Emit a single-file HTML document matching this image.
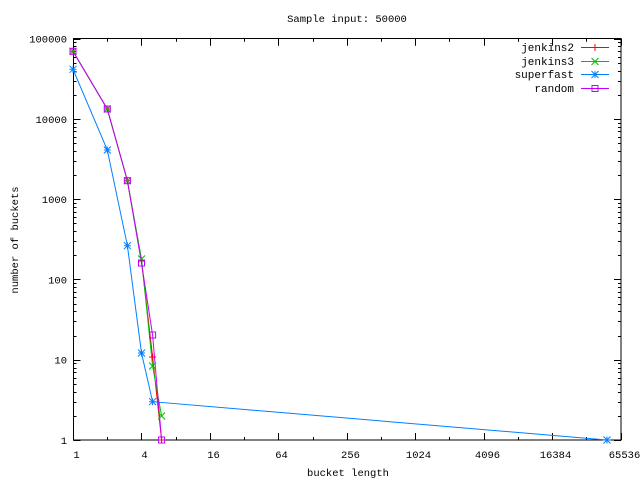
<!DOCTYPE html>
<html><head><meta charset="utf-8"><style>
html,body{margin:0;padding:0;background:#fff;}
svg{display:block;font-family:"Liberation Mono",monospace;font-size:10.5px;}
</style></head><body>
<svg id="s" width="640" height="480" xmlns="http://www.w3.org/2000/svg">
<rect width="640" height="480" fill="#fff"/>
<g id="ticks" stroke="#000" stroke-width="1"></g>
<rect x="73.5" y="38.5" width="547.5" height="401.5" fill="none" stroke="#000"/>
<g id="labels" fill="#000"></g>
<text x="347" y="22" text-anchor="middle">Sample input: 50000</text>
<text x="348" y="476" text-anchor="middle">bucket length</text>
<text transform="translate(18,240) rotate(-90)" text-anchor="middle">number of buckets</text>
<g fill="none" stroke-width="1">
<polyline stroke="#ff0000" points="73,51.3 107.3,109 127.4,180.7 141.5,261 152.6,357 161.6,440"/>
<polyline stroke="#00c000" points="73,51.3 107.3,109 127.4,180.7 141.5,259 152.6,366 161.6,416"/>
<polyline stroke="#0080ff" points="73,69.3 107.3,150 127.4,245.7 141.5,353 152.6,401.7 607,440"/>
<polyline stroke="#c000ff" points="73,51.3 107.3,109 127.4,180.7 141.5,263 152.6,335 161.6,440"/>
</g>
<g id="marks" fill="none" stroke-width="1"></g>
<g text-anchor="end" style="font-size:11px">
<text x="574" y="51">jenkins2</text>
<text x="574" y="65">jenkins3</text>
<text x="574" y="78">superfast</text>
<text x="574" y="92">random</text>
</g>
<g stroke-width="1">
<line x1="581" y1="47.5" x2="609" y2="47.5" stroke="#ff0000"/>
<line x1="581" y1="61.5" x2="609" y2="61.5" stroke="#00c000"/>
<line x1="581" y1="74.5" x2="609" y2="74.5" stroke="#0080ff"/>
<line x1="581" y1="88.5" x2="609" y2="88.5" stroke="#c000ff"/>
</g>
</svg>
<script>
var NS="http://www.w3.org/2000/svg";
function el(p,t,a,txt){var e=document.createElementNS(NS,t);for(var k in a)e.setAttribute(k,a[k]);if(txt!=null)e.textContent=txt;p.appendChild(e);return e;}
var T=document.getElementById("ticks"),L=document.getElementById("labels"),M=document.getElementById("marks");
var X0=73.5,X1=621,Y0=440,Y1=38.7,DEC=(Y0-Y1)/5,DBL=(X1-X0)/16;
var yl=["1","10","100","1000","10000","100000"];
for(var d=0;d<=5;d++){
 var y=Y0-d*DEC; var yy=Math.round(y)+0.5;
 el(T,"line",{x1:X0,y1:yy,x2:X0+7,y2:yy});el(T,"line",{x1:X1-7,y1:yy,x2:X1,y2:yy});
 el(L,"text",{x:67,y:y+4,"text-anchor":"end"},yl[d]);
 if(d<5)for(var m=2;m<=9;m++){var ym=Math.round(y-Math.log10(m)*DEC)+0.5;
  el(T,"line",{x1:X0,y1:ym,x2:X0+3,y2:ym});el(T,"line",{x1:X1-3,y1:ym,x2:X1,y2:ym});}
}
for(var i=0;i<=16;i++){
 var x=Math.round(X0+i*DBL-0.5)+0.5; var len=(i%2==0)?7:3;
 el(T,"line",{x1:x,y1:Y0,x2:x,y2:Y0-len});el(T,"line",{x1:x,y1:Y1,x2:x,y2:Y1+len});
 if(i%2==0)el(L,"text",{x:x+3,y:458,"text-anchor":"middle"},String(Math.pow(2,i)));
}
var R=3.5;
function plus(x,y,c){el(M,"path",{d:"M"+(x-R)+" "+y+"h"+(2*R)+"M"+x+" "+(y-R)+"v"+(2*R),stroke:c});}
function cross(x,y,c){el(M,"path",{d:"M"+(x-R)+" "+(y-R)+"l"+(2*R)+" "+(2*R)+"M"+(x-R)+" "+(y+R)+"l"+(2*R)+" "+(-2*R),stroke:c});}
function star(x,y,c){plus(x,y,c);cross(x,y,c);}
function sq(x,y,c){el(M,"rect",{x:x-3,y:y-3,width:6,height:6,stroke:c});}
var J2=[[73,51.3],[107.3,109],[127.4,180.7],[141.5,261],[152.6,357],[161.6,440]];
var J3=[[73,51.3],[107.3,109],[127.4,180.7],[141.5,259],[152.6,366],[161.6,416]];
var SF=[[73,69.3],[107.3,150],[127.4,245.7],[141.5,353],[152.6,401.7],[607,440]];
var RD=[[73,51.3],[107.3,109],[127.4,180.7],[141.5,263],[152.6,335],[161.6,440]];
J2.forEach(function(p){plus(p[0],p[1],"#ff0000")});
J3.forEach(function(p){cross(p[0],p[1],"#00c000")});
SF.forEach(function(p){star(p[0],p[1],"#0080ff")});
RD.forEach(function(p){sq(p[0],p[1],"#c000ff")});
plus(595,47.5,"#ff0000");cross(595,61.5,"#00c000");star(595,74.5,"#0080ff");sq(595,88.5,"#c000ff");
</script>
</body></html>
